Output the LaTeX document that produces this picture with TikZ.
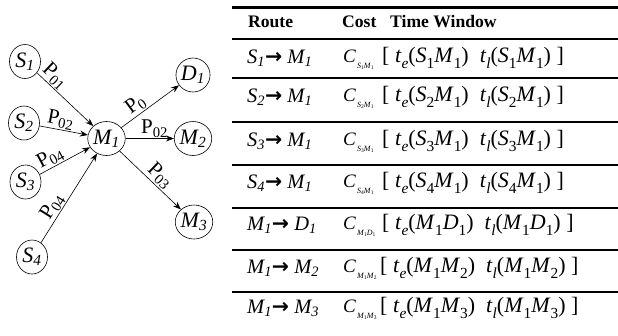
\documentclass[tikz,border=0pt]{standalone}
\usepackage{fontspec}
\usepackage{graphicx}
\setmainfont{Liberation Serif}
\newfontfamily\arrowfont{DejaVu Sans}
\usetikzlibrary{shapes.geometric,arrows.meta}
\newcommand\dn[1]{\raisebox{-0.28em}{\scalebox{0.7}{#1}}}
\newcommand\route[4]{\textit{#1\textsubscript{#2}}{\arrowfont\bfseries →}\ \textit{#3\textsubscript{#4}}}
\newcommand\cost[4]{{\fontsize{19bp}{21bp}\selectfont\textit{C}}\hspace{1bp}\raisebox{-5.5bp}{\fontsize{8bp}{9bp}\selectfont\textit{#1}\raisebox{-1.2bp}{\fontsize{5.5bp}{6bp}\selectfont #2}\textit{#3}\raisebox{-1.2bp}{\fontsize{5.5bp}{6bp}\selectfont #4}}}
\newcommand\twin[4]{[\ \textit{t}\dn{\textit{e}}(\textit{#1}\dn{#2}\textit{#3}\dn{#4})\ \ \textit{t}\dn{\textit{l}}(\textit{#1}\dn{#2}\textit{#3}\dn{#4})\ ]}
\begin{document}
\begin{tikzpicture}[x=1bp,y=-1bp,
  vtx/.style={ellipse, draw, line width=0.6bp, minimum width=31bp, minimum height=34bp, inner sep=0pt,
    font=\fontsize{22bp}{24bp}\selectfont\itshape},
  link/.style={-{Stealth[length=8bp,width=6bp]}, line width=0.6bp},
  lbl/.style={font=\fontsize{21bp}{22bp}\selectfont, sloped, inner sep=1bp},
  rule/.style={line width=2.4bp},
  head/.style={anchor=west, inner sep=0pt, font=\fontsize{17.6bp}{20bp}\selectfont\bfseries},
  cell/.style={anchor=west, inner sep=0pt, font=\fontsize{20.5bp}{22bp}\selectfont},
  twc/.style={anchor=west, inner sep=0pt, font=\fontsize{22bp}{24bp}\selectfont}]
\useasboundingbox (0,0) rectangle (618,335);
% graph
\node[vtx] (S1) at (25,61.5) {S\textsubscript{1}};
\node[vtx] (S2) at (24,123) {S\textsubscript{2}};
\node[vtx] (S3) at (25.5,182) {S\textsubscript{3}};
\node[vtx] (S4) at (32,257) {S\textsubscript{4}};
\node[vtx] (M1) at (106.5,138.5) {M\textsubscript{1}};
\node[vtx] (D1) at (193,75) {D\textsubscript{1}};
\node[vtx] (M2) at (193,138.5) {M\textsubscript{2}};
\node[vtx] (M3) at (194,222) {M\textsubscript{3}};
\draw[link] (S1) -- node[lbl, above, pos=0.2] (l1) {P\textsubscript{01}} (M1);
\draw[link] (S2) -- node[lbl, above, pos=0.4] (l2) {P\textsubscript{02}} (M1);
\draw[link] (S3) -- node[lbl, above, pos=0.3] (l3) {P\textsubscript{04}} (M1);
\draw[link] (S4) -- node[lbl, above, pos=0.35] (l4) {P\textsubscript{04}} (M1);
\draw[link] (M1) -- node[lbl, above, pos=0.35] (l5) {P\textsubscript{0}} (D1);
\draw[link] (M1) -- node[lbl, above, pos=0.6] (l6) {P\textsubscript{02}} (M2);
\draw[link] (M1) -- node[lbl, above, pos=0.55] (l7) {P\textsubscript{03}} (M3);
% table rules
\foreach \yy in {7.3,39,78,121.7,165,208,250,292}
  \draw[rule] (232,\yy) -- (618,\yy);
% header
\node[head] (hr) at (248,21.7) {Route};
\node[head] (hc) at (342,21.7) {Cost};
\node[head] (ht) at (390,21.7) {Time Window};
% rows
\node[cell] (r1) at (247,58) {\route{S}{1}{M}{1}};
\node[cell] (c1) at (343,60) {\cost{S}{1}{M}{1}};
\node[twc] (t1) at (382,58) {\twin{S}{1}{M}{1}};
\node[cell] (r2) at (247,97) {\route{S}{2}{M}{1}};
\node[cell] (c2) at (343,99) {\cost{S}{2}{M}{1}};
\node[twc] (t2) at (382,97) {\twin{S}{2}{M}{1}};
\node[cell] (r3) at (247,141) {\route{S}{3}{M}{1}};
\node[cell] (c3) at (343,143) {\cost{S}{3}{M}{1}};
\node[twc] (t3) at (382,141) {\twin{S}{3}{M}{1}};
\node[cell] (r4) at (247,183) {\route{S}{4}{M}{1}};
\node[cell] (c4) at (343,185) {\cost{S}{4}{M}{1}};
\node[twc] (t4) at (382,183) {\twin{S}{4}{M}{1}};
\node[cell] (r5) at (247,225) {\route{M}{1}{D}{1}};
\node[cell] (c5) at (343,227) {\cost{M}{1}{D}{1}};
\node[twc] (t5) at (382,225) {\twin{M}{1}{D}{1}};
\node[cell] (r6) at (247,268) {\route{M}{1}{M}{2}};
\node[cell] (c6) at (343,270) {\cost{M}{1}{M}{2}};
\node[twc] (t6) at (380,268) {\twin{M}{1}{M}{2}};
\node[cell] (r7) at (247,308) {\route{M}{1}{M}{3}};
\node[cell] (c7) at (343,310) {\cost{M}{1}{M}{3}};
\node[twc] (t7) at (380,308) {\twin{M}{1}{M}{3}};
\end{tikzpicture}
\end{document}
